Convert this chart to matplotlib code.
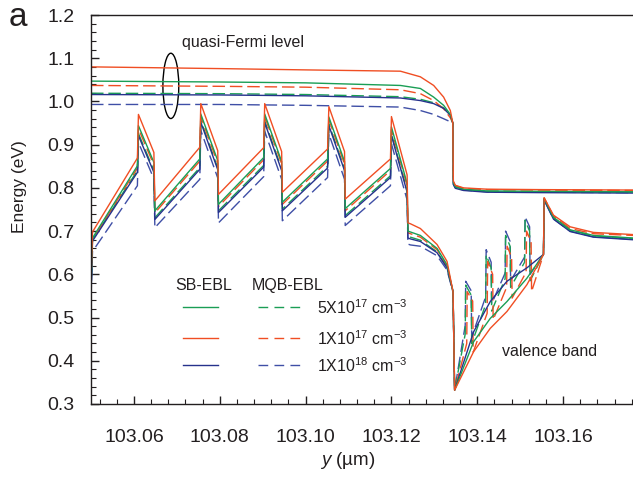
import numpy as np
import matplotlib
matplotlib.use("Agg")
import matplotlib.pyplot as plt
from matplotlib.patches import Ellipse
from matplotlib.ticker import MultipleLocator, FormatStrFormatter

plt.rcParams['font.family'] = ['Liberation Sans', 'DejaVu Sans']
plt.rcParams['mathtext.fontset'] = 'custom'
plt.rcParams['mathtext.rm'] = 'Liberation Sans'
plt.rcParams['mathtext.it'] = 'Liberation Sans:italic'

# Colours
GREEN = '#1a9e55'
RED = '#f04e23'
BLUE = '#26328c'
BLUE_D = '#3f4fa6'
TXT = '#231f20'

# Quasi-Fermi levels
# -----------------------------------------------------------
fermi_x = [103.05, 103.08, 103.10, 103.12209, 103.12674, 103.12984, 103.13216,
           103.13372, 103.1343, 103.13442, 103.13488, 103.13681, 103.14226,
           103.15465, 103.17628]
fermi_red_sb = [1.080, 1.076, 1.073, 1.070, 1.057, 1.037, 1.010, 0.979, 0.950,
                0.816, 0.806, 0.800, 0.797, 0.796, 0.795]
fermi_green_sb = [1.047, 1.045, 1.043, 1.037, 1.030, 1.010, 0.991, 0.970, 0.950,
                  0.812, 0.803, 0.797, 0.793, 0.792, 0.791]
fermi_blue_sb = [1.016, 1.015, 1.013, 1.008, 1.002, 0.995, 0.984, 0.968, 0.950,
                 0.808, 0.799, 0.794, 0.790, 0.789, 0.788]
fermi_red_mqb = [1.037, 1.035, 1.033, 1.027, 1.018, 1.002, 0.983, 0.962, 0.950,
                 0.814, 0.805, 0.799, 0.796, 0.795, 0.794]
fermi_green_mqb = [1.019, 1.018, 1.016, 1.011, 1.005, 0.997, 0.985, 0.968, 0.950,
                   0.811, 0.802, 0.796, 0.792, 0.791, 0.790]
fermi_blue_mqb = [0.993, 0.993, 0.991, 0.987, 0.979, 0.970, 0.960, 0.953, 0.948,
                  0.809, 0.800, 0.795, 0.791, 0.790, 0.789]

# Band edge through the wells (shared positions)
# -----------------------------------------------------------
band_x = [103.05, 103.05035, 103.06081, 103.06105, 103.06465, 103.06488,
          103.07535, 103.07558, 103.07953, 103.07970, 103.09023, 103.09047,
          103.09442, 103.09458, 103.10512, 103.10542, 103.10907, 103.10923,
          103.11977, 103.12000, 103.12365, 103.12384, 103.12442, 103.12674,
          103.13063, 103.13295, 103.13435, 103.13472]
band_red_sb = [0.590, 0.698, 0.869, 0.970, 0.882, 0.770, 0.894, 0.995, 0.886,
               0.785, 0.893, 0.995, 0.884, 0.790, 0.890, 0.988, 0.884, 0.774,
               0.867, 0.965, 0.830, 0.719, 0.717, 0.706, 0.669, 0.630, 0.560, 0.332]
band_green_sb = [0.580, 0.684, 0.851, 0.944, 0.859, 0.747, 0.867, 0.971, 0.863,
                 0.762, 0.870, 0.971, 0.861, 0.767, 0.867, 0.964, 0.861, 0.752,
                 0.845, 0.941, 0.810, 0.700, 0.698, 0.690, 0.660, 0.622, 0.560, 0.332]
band_blue_sb = [0.545, 0.677, 0.836, 0.921, 0.836, 0.727, 0.843, 0.952, 0.842,
                0.743, 0.848, 0.951, 0.840, 0.747, 0.846, 0.944, 0.840, 0.732,
                0.824, 0.921, 0.790, 0.684, 0.682, 0.676, 0.650, 0.615, 0.560, 0.332]
band_red_mqb = [0.575, 0.680, 0.846, 0.937, 0.853, 0.742, 0.862, 0.965, 0.857,
                0.757, 0.865, 0.965, 0.856, 0.762, 0.862, 0.958, 0.855, 0.747,
                0.840, 0.935, 0.805, 0.696, 0.694, 0.686, 0.657, 0.620, 0.560, 0.332]
band_green_mqb = [0.555, 0.680, 0.840, 0.926, 0.840, 0.731, 0.847, 0.956, 0.846,
                  0.747, 0.852, 0.955, 0.844, 0.751, 0.850, 0.948, 0.844, 0.736,
                  0.828, 0.925, 0.794, 0.688, 0.686, 0.679, 0.652, 0.617, 0.560, 0.332]
band_blue_mqb = [0.545, 0.653, 0.805, 0.905, 0.821, 0.708, 0.820, 0.933, 0.823,
                 0.719, 0.826, 0.931, 0.820, 0.724, 0.824, 0.925, 0.820, 0.713,
                 0.805, 0.902, 0.772, 0.670, 0.668, 0.665, 0.643, 0.610, 0.558, 0.332]

# Valence band tail, single barrier EBL
sb_tail_x = [103.13914, 103.14302, 103.14691, 103.15156, 103.15542, 103.15558,
             103.15774, 103.16163, 103.16705, 103.17628]
tail_red_sb = [0.421, 0.475, 0.514, 0.576, 0.646, 0.777, 0.737, 0.710, 0.697, 0.692]
tail_green_sb = [0.444, 0.498, 0.537, 0.591, 0.646, 0.775, 0.732, 0.703, 0.690, 0.684]
tail_blue_sb = [0.467, 0.537, 0.584, 0.615, 0.646, 0.772, 0.728, 0.699, 0.686, 0.680]

# Valence band tail, multi quantum barrier EBL
mqb_tail_x = [103.13719, 103.13730, 103.13858, 103.13870, 103.14195, 103.14207,
              103.14323, 103.14335, 103.14649, 103.14660, 103.14765, 103.14777,
              103.15102, 103.15114, 103.15219, 103.15230, 103.15542, 103.15558,
              103.15774, 103.16163, 103.16705, 103.17628]
mqb_tail_x_red = [103.13754, 103.13765, 103.13893, 103.13905, 103.14230, 103.14242,
                  103.14358, 103.14370, 103.14684, 103.14695, 103.14800, 103.14812,
                  103.15137, 103.15149, 103.15254, 103.15265, 103.15542, 103.15558,
                  103.15774, 103.16163, 103.16705, 103.17628]
tail_blue_mqb = [0.482, 0.584, 0.562, 0.455, 0.548, 0.657, 0.628, 0.532, 0.603, 0.700,
                 0.676, 0.585, 0.640, 0.733, 0.710, 0.600, 0.646, 0.772, 0.728, 0.700,
                 0.687, 0.681]
tail_green_mqb = [0.462, 0.575, 0.552, 0.440, 0.530, 0.645, 0.615, 0.515, 0.590, 0.690,
                  0.665, 0.570, 0.628, 0.725, 0.700, 0.585, 0.646, 0.775, 0.731, 0.702,
                  0.689, 0.683]
tail_red_mqb = [0.440, 0.560, 0.538, 0.420, 0.510, 0.630, 0.600, 0.495, 0.570, 0.665,
                0.640, 0.545, 0.605, 0.700, 0.675, 0.560, 0.646, 0.777, 0.735, 0.706,
                0.694, 0.690]

doping_labels = [r'5X10$^{17}$ cm$^{-3}$', r'1X10$^{17}$ cm$^{-3}$', r'1X10$^{18}$ cm$^{-3}$']

# Plot
# -----------------------------------------------------------
fig = plt.figure(figsize=(6.33, 4.78), dpi=100)
ax = fig.add_axes([91/633, 1-404/478, 542/633, 389/478])

lw = 1.0
dash = (9, 3.5)

# MQB-EBL dashed first
for fy, bx, by, tx, ty, c in [
        (fermi_blue_mqb, band_x, band_blue_mqb, mqb_tail_x, tail_blue_mqb, BLUE_D),
        (fermi_green_mqb, band_x, band_green_mqb, mqb_tail_x, tail_green_mqb, GREEN),
        (fermi_red_mqb, band_x, band_red_mqb, mqb_tail_x_red, tail_red_mqb, RED)]:
    ax.plot(fermi_x, fy, color=c, lw=lw, dashes=dash)
    ax.plot(bx + tx, by + ty, color=c, lw=lw, dashes=dash)

# SB-EBL solid
for fy, by, ty, c in [
        (fermi_blue_sb, band_blue_sb, tail_blue_sb, BLUE),
        (fermi_green_sb, band_green_sb, tail_green_sb, GREEN),
        (fermi_red_sb, band_red_sb, tail_red_sb, RED)]:
    ax.plot(fermi_x, fy, color=c, lw=lw)
    ax.plot(band_x + sb_tail_x, by + ty, color=c, lw=lw)

ax.set_xlim(103.05, 103.17628)
ax.set_ylim(0.3, 1.2)

ax.spines['right'].set_visible(False)
for s in ['left', 'bottom', 'top']:
    ax.spines[s].set_linewidth(1.0)
    ax.spines[s].set_color(TXT)

ax.xaxis.set_major_locator(MultipleLocator(0.02))
ax.xaxis.set_minor_locator(MultipleLocator(0.004))
ax.yaxis.set_major_locator(MultipleLocator(0.1))
ax.yaxis.set_minor_locator(MultipleLocator(0.02))
ax.xaxis.set_major_formatter(FormatStrFormatter('%.2f'))
ax.yaxis.set_major_formatter(FormatStrFormatter('%.1f'))
ax.tick_params(which='both', direction='in', top=False, right=False,
               colors=TXT, labelsize=14)
ax.tick_params(axis='y', pad=12)
ax.tick_params(axis='x', pad=18)
ax.tick_params(which='major', length=6, width=1.0)
ax.tick_params(which='minor', length=3.5, width=0.8)

ax.set_ylabel('Energy (eV)', fontsize=12.5, color=TXT)
ax.yaxis.set_label_coords(-0.118, 0.559)
ax.set_xlabel(r'$y$ (µm)', fontsize=13.5, color=TXT)
ax.xaxis.set_label_coords(0.474, -0.118)

# Annotations
ax.add_patch(Ellipse((103.0686, 1.036), 0.0037, 0.151, fill=False,
                     edgecolor='black', lw=1.0))
ax.text(0.168, 0.917, 'quasi-Fermi level', transform=ax.transAxes,
        fontsize=11.5, color=TXT, va='baseline')
ax.text(0.758, 0.123, 'valence band', transform=ax.transAxes,
        fontsize=11.5, color=TXT, va='baseline')

# Hand made legend
ax.text(0.155, 0.293, 'SB-EBL', transform=ax.transAxes, fontsize=11.5,
        color=TXT, va='baseline')
ax.text(0.297, 0.293, 'MQB-EBL', transform=ax.transAxes, fontsize=11.5,
        color=TXT, va='baseline')
leg_y = [0.2494, 0.1697, 0.1003]
leg_c = [(GREEN, GREEN), (RED, RED), (BLUE, BLUE_D)]
for yy, (cs, cd), lab in zip(leg_y, leg_c, doping_labels):
    ax.plot([0.1697, 0.2343], [yy, yy], color=cs, lw=lw, transform=ax.transAxes)
    ax.plot([0.3081, 0.3856], [yy, yy], color=cd, lw=lw, dashes=(7, 4.5),
            transform=ax.transAxes)
    ax.text(0.417, yy - 0.018, lab, transform=ax.transAxes, fontsize=11.5,
            color=TXT, va='baseline')

fig.text(0.013, 1 - 26/478, 'a', fontsize=24, color=TXT, va='baseline')

fig.savefig('out.png', dpi=100)
